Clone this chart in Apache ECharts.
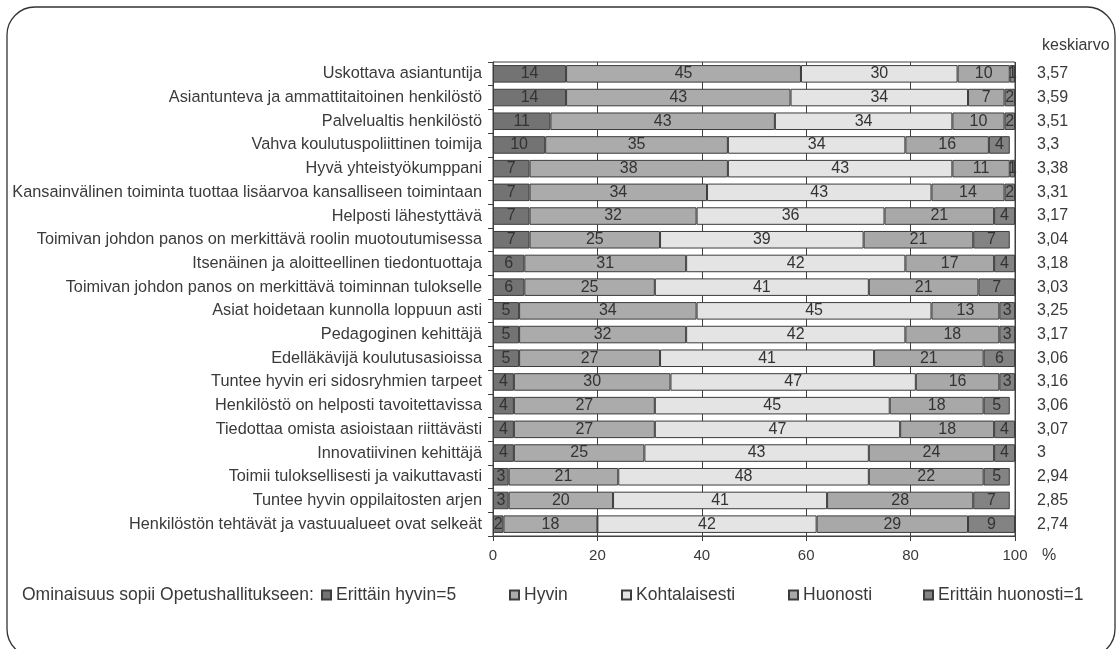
<!DOCTYPE html>
<html>
<head>
<meta charset="utf-8">
<title>Ominaisuudet</title>
<script src="https://cdn.jsdelivr.net/npm/echarts@6.0.0/dist/echarts.min.js"></script>
<style>
  html, body { margin: 0; padding: 0; background: #fff; }
  #chart { width: 1119px; height: 649px; }
</style>
</head>
<body>
<div id="chart"></div>
<script>
  // kategoriat ylhäältä alas
  const categories = [
    'Uskottava asiantuntija',
    'Asiantunteva ja ammattitaitoinen henkilöstö',
    'Palvelualtis henkilöstö',
    'Vahva koulutuspoliittinen toimija',
    'Hyvä yhteistyökumppani',
    'Kansainvälinen toiminta tuottaa lisäarvoa kansalliseen toimintaan',
    'Helposti lähestyttävä',
    'Toimivan johdon panos on merkittävä roolin muotoutumisessa',
    'Itsenäinen ja aloitteellinen tiedontuottaja',
    'Toimivan johdon panos on merkittävä toiminnan tulokselle',
    'Asiat hoidetaan kunnolla loppuun asti',
    'Pedagoginen kehittäjä',
    'Edelläkävijä koulutusasioissa',
    'Tuntee hyvin eri sidosryhmien tarpeet',
    'Henkilöstö on helposti tavoitettavissa',
    'Tiedottaa omista asioistaan riittävästi',
    'Innovatiivinen kehittäjä',
    'Toimii tuloksellisesti ja vaikuttavasti',
    'Tuntee hyvin oppilaitosten arjen',
    'Henkilöstön tehtävät ja vastuualueet ovat selkeät'
  ]
  const keskiarvo = ['3,57', '3,59', '3,51', '3,3', '3,38', '3,31', '3,17', '3,04', '3,18', '3,03',
    '3,25', '3,17', '3,06', '3,16', '3,06', '3,07', '3', '2,94', '2,85', '2,74']

  const erittainHyvin = [14, 14, 11, 10, 7, 7, 7, 7, 6, 6, 5, 5, 5, 4, 4, 4, 4, 3, 3, 2]
  const hyvin = [45, 43, 43, 35, 38, 34, 32, 25, 31, 25, 34, 32, 27, 30, 27, 27, 25, 21, 20, 18]
  const kohtalaisesti = [30, 34, 34, 34, 43, 43, 36, 39, 42, 41, 45, 42, 41, 47, 45, 47, 43, 48, 41, 42]
  const huonosti = [10, 7, 10, 16, 11, 14, 21, 21, 17, 21, 13, 18, 21, 16, 18, 18, 24, 22, 28, 29]
  const erittainHuonosti = [1, 2, 2, 4, 1, 2, 4, 7, 4, 7, 3, 3, 6, 3, 5, 4, 4, 5, 7, 9]

  const xTicks = [0, 20, 40, 60, 80, 100]

  const seriesNames = ['Erittäin hyvin=5', 'Hyvin', 'Kohtalaisesti', 'Huonosti', 'Erittäin huonosti=1']
  const seriesData = [erittainHyvin, hyvin, kohtalaisesti, huonosti, erittainHuonosti]
  const colors = ['#737373', '#ababab', '#e4e4e4', '#a8a8a8', '#838383']
  const legendLeft = [321, 509, 621, 788, 923]

  const textColor = '#3a3a3a'
  const font = 'Liberation Sans, Arial, sans-serif'

  let chart = echarts.init(document.getElementById('chart'))

  let series = seriesNames.map(function (name, i) {
    return {
      name: name,
      type: 'bar',
      stack: 'total',
      barWidth: '74%',
      itemStyle: {
        color: colors[i],
        borderColor: '#3c3c3c',
        borderWidth: 1
      },
      label: {
        show: true,
        position: 'inside',
        color: '#333',
        fontSize: 16,
        fontFamily: font
      },
      emphasis: { disabled: true },
      data: seriesData[i]
    }
  })

  let legends = seriesNames.map(function (name, i) {
    return {
      data: [name],
      left: legendLeft[i],
      top: 586,
      padding: 0,
      itemWidth: 9,
      itemHeight: 9,
      itemGap: 4,
      icon: 'rect',
      selectedMode: false,
      textStyle: { color: textColor, fontSize: 17.5, fontFamily: font }
    }
  })

  let option = {
    animation: false,
    textStyle: { fontFamily: font },
    title: [
      {
        text: 'keskiarvo',
        left: 1042,
        top: 38,
        padding: 0,
        textStyle: { color: textColor, fontSize: 16, fontWeight: 'normal', fontFamily: font }
      },
      {
        text: 'Ominaisuus sopii Opetushallitukseen:',
        left: 22,
        top: 586,
        padding: 0,
        textStyle: { color: textColor, fontSize: 17.5, fontWeight: 'normal', fontFamily: font }
      }
    ],
    legend: legends,
    grid: {
      left: 493,
      right: 104,
      top: 62,
      height: 474,
      show: true,
      borderColor: '#404040',
      borderWidth: 1,
      containLabel: false
    },
    xAxis: {
      type: 'value',
      min: 0,
      max: 100,
      interval: 20,
      name: '%',
      nameLocation: 'end',
      nameGap: 27,
      nameTextStyle: { color: textColor, fontSize: 16, verticalAlign: 'top', padding: [12, 0, 0, 0] },
      axisLine: { show: true, lineStyle: { color: '#404040' } },
      axisTick: { show: true, length: 5, lineStyle: { color: '#404040' } },
      axisLabel: {
        color: textColor,
        fontSize: 15,
        margin: 12,
        formatter: function (v) { return xTicks.indexOf(v) >= 0 ? String(v) : '' }
      },
      splitLine: { show: true, lineStyle: { color: '#404040', width: 1 } }
    },
    yAxis: [
      {
        type: 'category',
        inverse: true,
        data: categories,
        axisLine: { show: true, lineStyle: { color: '#404040' } },
        axisTick: { show: true, length: 5, lineStyle: { color: '#404040' } },
        axisLabel: { color: textColor, fontSize: 16.3, margin: 11 },
        splitLine: { show: false }
      },
      {
        type: 'category',
        inverse: true,
        position: 'right',
        data: keskiarvo,
        axisLine: { show: false },
        axisTick: { show: false },
        axisLabel: { color: textColor, fontSize: 16, margin: 22 },
        splitLine: { show: false }
      }
    ],
    graphic: [
      {
        // pyöristetty kehys
        type: 'rect',
        silent: true,
        shape: { x: 7, y: 7, width: 1108, height: 650, r: 28 },
        style: { fill: 'none', stroke: '#333', lineWidth: 1.3 }
      }
    ],
    series: series
  }

  chart.setOption(option)
</script>
</body>
</html>
